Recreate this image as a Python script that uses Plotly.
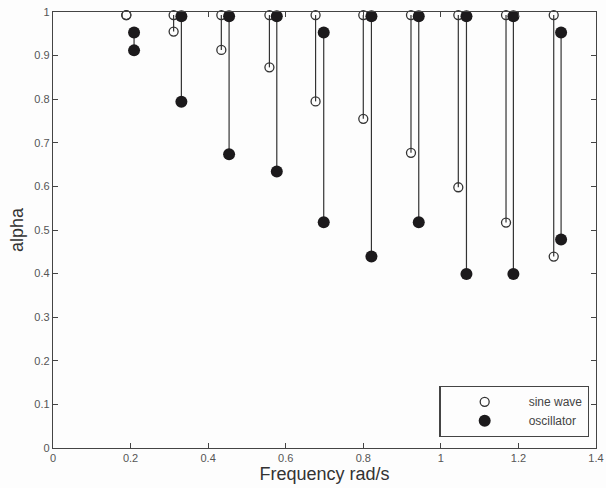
import plotly.graph_objects as go

# Sine wave test (open circles)
sine_freq = [0.189, 0.311, 0.434, 0.558, 0.677, 0.800, 0.923, 1.045, 1.168, 1.291]
sine_high = [0.993, 0.993, 0.993, 0.993, 0.993, 0.993, 0.993, 0.993, 0.993, 0.993]
sine_low = [0.993, 0.955, 0.913, 0.873, 0.795, 0.755, 0.677, 0.598, 0.517, 0.439]

# Oscillator test (filled circles)
osc_freq = [0.209, 0.331, 0.454, 0.577, 0.698, 0.821, 0.943, 1.066, 1.187, 1.310]
osc_high = [0.953, 0.990, 0.990, 0.990, 0.953, 0.990, 0.990, 0.990, 0.990, 0.953]
osc_low = [0.912, 0.794, 0.674, 0.634, 0.518, 0.439, 0.518, 0.399, 0.399, 0.478]

x_ticks = [0, 0.2, 0.4, 0.6, 0.8, 1, 1.2, 1.4]
y_ticks = [0, 0.1, 0.2, 0.3, 0.4, 0.5, 0.6, 0.7, 0.8, 0.9, 1]


def stems(xs, hi, lo):
    lx, ly = [], []
    for x, a, b in zip(xs, hi, lo):
        lx += [x, x, None]
        ly += [a, b, None]
    return lx, ly


fig = go.Figure()
ink = "#1c1a1c"

for xs, hi, lo in [(sine_freq, sine_high, sine_low), (osc_freq, osc_high, osc_low)]:
    lx, ly = stems(xs, hi, lo)
    fig.add_trace(go.Scatter(x=lx, y=ly, mode="lines", line=dict(color="#333", width=1.2),
                             showlegend=False, hoverinfo="skip", cliponaxis=False))

fig.add_trace(go.Scatter(
    x=sine_freq + sine_freq, y=sine_high + sine_low, mode="markers", name="sine wave",
    marker=dict(symbol="circle-open", size=9, color="#333", line=dict(width=1.3)),
    cliponaxis=False))
fig.add_trace(go.Scatter(
    x=osc_freq + osc_freq, y=osc_high + osc_low, mode="markers", name="oscillator",
    marker=dict(symbol="circle", size=12, color=ink, line=dict(width=0)),
    cliponaxis=False))

axis_common = dict(showline=True, linecolor="#444", linewidth=1.3, mirror="ticks",
                   ticks="inside", ticklen=5, tickcolor="#444", showgrid=False,
                   zeroline=False, ticklabeloverflow="allow", automargin=False,
                   tickfont=dict(family="Liberation Sans", size=11, color="#555"))

fig.update_layout(
    width=606, height=488,
    margin=dict(l=53, r=10, t=12, b=40),
    paper_bgcolor="#fdfdfd", plot_bgcolor="#fdfdfd",
    xaxis=dict(range=[0, 1.4], tickvals=x_ticks,
               title=dict(text="Frequency rad/s", standoff=4,
                          font=dict(family="Liberation Sans", size=18, color="#333")),
               **axis_common),
    yaxis=dict(range=[0, 1], tickvals=y_ticks,
               title=dict(text="alpha", standoff=6,
                          font=dict(family="Liberation Sans", size=18, color="#333")),
               **axis_common),
    legend=dict(x=0.988, y=0.025, xanchor="right", yanchor="bottom",
                bgcolor="#fdfdfd", bordercolor="#444", borderwidth=1.2,
                itemwidth=78, tracegroupgap=0,
                font=dict(family="Liberation Sans", size=12, color="#444")),
)

fig.write_html("out.html")
